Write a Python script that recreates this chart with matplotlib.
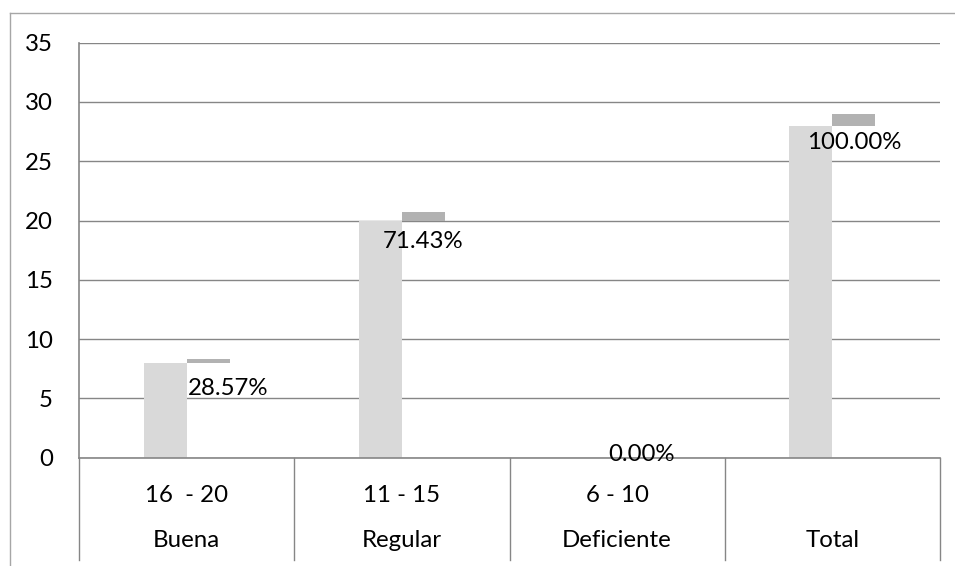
import matplotlib
matplotlib.use("Agg")
import matplotlib.pyplot as plt
from matplotlib.lines import Line2D
import matplotlib.transforms as mtransforms

plt.rcParams['font.family'] = ['Lato', 'DejaVu Sans']

# ---- data ----
ranges = ["16  - 20", "11 - 15", "6 - 10", ""]
categories = ["Buena", "Regular", "Deficiente", "Total"]
counts = [8, 20, 0, 28]
percents = [0.2857, 0.7143, 0.0, 1.0]
pct_labels = ["28.57%", "71.43%", "0.00%", "100.00%"]
yticks = [0, 5, 10, 15, 20, 25, 30, 35]

# label nudges (points): (dx, dy)
label_offsets = [(14.4, -21.0), (0, -21.0), (1.7, 2.0), (0, -21.0)]

FS = 17.3
W, H = 955, 566
fig = plt.figure(figsize=(W / 100, H / 100), dpi=100)
ax_left, ax_right = 79 / W, 940 / W
ax_bottom, ax_top = (H - 457.7) / H, (H - 42.6) / H
ax = fig.add_axes([ax_left, ax_bottom, ax_right - ax_left, ax_top - ax_bottom])

grid_c = "#868686"
light = "#D9D9D9"
dark = "#B2B2B2"

xs = list(range(len(categories)))
bw = 0.2
ax.bar([x - bw for x in xs], counts, width=bw, align='edge', color=light, zorder=2)
ax.bar(xs, percents, width=bw, bottom=counts, align='edge', color=dark, zorder=2)

for x, c, p, lab, (dx, dy) in zip(xs, counts, percents, pct_labels, label_offsets):
    ax.annotate(lab, xy=(x + bw / 2, c + p), xytext=(dx, dy), textcoords='offset points',
                ha='center', va='center', fontsize=FS, color='black', zorder=3)

ax.set_xlim(-0.5, len(categories) - 0.5)
ax.set_ylim(0, 35)
ax.set_yticks(yticks)
ax.set_yticklabels([str(t) for t in yticks], fontsize=FS)
ax.tick_params(axis='y', length=0, pad=18.7)
ax.set_xticks([])
ax.yaxis.grid(True, color=grid_c, linewidth=1)
ax.set_axisbelow(True)
for s in ['top', 'right']:
    ax.spines[s].set_visible(False)
for s in ['left', 'bottom']:
    ax.spines[s].set_color(grid_c)
    ax.spines[s].set_linewidth(1.2)

# category table below the axis
trans = mtransforms.blended_transform_factory(ax.transData, ax.transAxes)
axes_h = 457.7 - 42.6
depth = (560 - 457.7) / axes_h
for xb in [x - 0.5 for x in xs] + [xs[-1] + 0.5]:
    ax.add_line(Line2D([xb, xb], [0, -depth], transform=trans, color=grid_c,
                       linewidth=1, clip_on=False))
row1 = -(501.7 - 457.7) / axes_h
row2 = -(547 - 457.7) / axes_h
for x, r, c in zip(xs, ranges, categories):
    ax.text(x, row1, r, transform=trans, ha='center', va='baseline', fontsize=FS)
    ax.text(x, row2, c, transform=trans, ha='center', va='baseline', fontsize=FS)

# outer chart border
border_c = "#A6A6A6"
fig.add_artist(Line2D([9.5 / W, 9.5 / W], [0, (H - 13) / H], transform=fig.transFigure,
                      color=border_c, linewidth=1))
fig.add_artist(Line2D([9.5 / W, 1.0], [(H - 13) / H, (H - 13) / H], transform=fig.transFigure,
                      color=border_c, linewidth=1))

fig.savefig("out.png", dpi=100)
